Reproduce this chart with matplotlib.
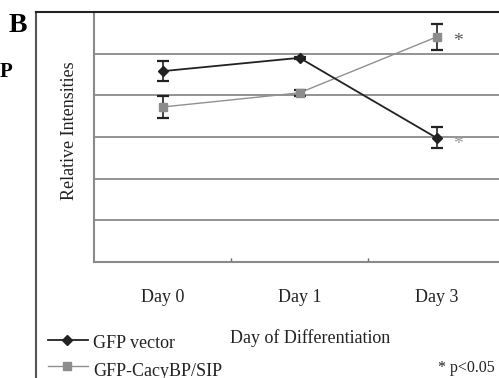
import matplotlib
matplotlib.use("Agg")
import matplotlib.pyplot as plt
from matplotlib.lines import Line2D

plt.rcParams['font.family'] = ['Liberation Serif', 'DejaVu Serif']

days = ["Day 0", "Day 1", "Day 3"]
vector_vals = [4.58, 4.90, 2.98]
vector_err = [0.24, 0.03, 0.25]
cacy_vals = [3.72, 4.06, 5.40]
cacy_err = [0.26, 0.08, 0.31]
series_names = ["GFP vector", "GFP-CacyBP/SIP"]

W, H = 499, 378
fig = plt.figure(figsize=(W / 100, H / 100), dpi=100)

def fx(px):
    return px / W

def fy(py):
    return 1 - py / H

# plot area
left, right, top, bottom = 94, 505, 12, 262
ax = fig.add_axes([fx(left), fy(bottom), fx(right - left), (bottom - top) / H])
ax.set_xlim(-0.5, 2.5)
ax.set_ylim(0, 6)
for v in range(1, 6):
    ax.axhline(v, color='#8a8a8a', lw=1.3, zorder=1)

x = list(range(len(days)))
ax.errorbar(x, cacy_vals, yerr=cacy_err, color='#909090', lw=1.0, marker='s', ms=6,
            mfc='#8c8c8c', mec='#8c8c8c', ecolor='#222222', elinewidth=1.2,
            capsize=4, capthick=1.6, zorder=3)
ax.errorbar(x, vector_vals, yerr=vector_err, color='#222222', lw=1.3, marker='D', ms=5,
            mfc='#222222', mec='#222222', ecolor='#222222', elinewidth=1.2,
            capsize=4, capthick=1.6, zorder=4)

ax.text(2.12, cacy_vals[2] - 0.1, "*", fontsize=14, color='#555555', va='center', ha='left')
ax.text(2.12, vector_vals[2] - 0.17, "*", fontsize=14, color='#999999', va='center', ha='left')

ax.set_xticks([0.5, 1.5])
ax.set_xticklabels([])
ax.tick_params(axis='x', direction='in', length=3, color='#666666', width=1)
ax.set_yticks([])
for s in ['top', 'right']:
    ax.spines[s].set_visible(False)
for s in ['left', 'bottom']:
    ax.spines[s].set_color('#8a8a8a')
    ax.spines[s].set_linewidth(1.5)

# category labels
for i, d in enumerate(days):
    xp = left + (right - left) * (i + 0.5) / 3
    fig.text(fx(xp), fy(298), d, ha='center', va='center', fontsize=13, color='#222222')

fig.text(fx(310), fy(338), "Day of Differentiation", ha='center', va='center',
         fontsize=13, color='#222222')
fig.text(fx(70), fy(131), "Relative Intensities", rotation=90, ha='center', va='center',
         fontsize=13, color='#222222')

# outer frame
fig.add_artist(Line2D([fx(36), fx(36)], [fy(12), fy(H + 5)], color='#555555', lw=1.5))
fig.add_artist(Line2D([fx(36), fx(W + 5)], [fy(12), fy(12)], color='#222222', lw=1.5))

# legend
fig.add_artist(Line2D([fx(48), fx(67), fx(88)], [fy(340)] * 3, color='#222222', lw=1.3,
                      marker='D', ms=5, markevery=[1], mfc='#222222', mec='#222222'))
fig.add_artist(Line2D([fx(48), fx(67), fx(88)], [fy(366)] * 3, color='#909090', lw=1.0,
                      marker='s', ms=6, markevery=[1], mfc='#8c8c8c', mec='#8c8c8c'))
fig.text(fx(93), fy(344), series_names[0], ha='left', va='center', fontsize=13, color='#222222')
fig.text(fx(93), fy(371), series_names[1], ha='left', va='center', fontsize=13, color='#222222')

fig.text(fx(438), fy(368), "* p<0.05", ha='left', va='center', fontsize=11.5, color='#222222')

# panel letters
fig.text(fx(9), fy(25), "B", ha='left', va='center', fontsize=20, fontweight='bold')
fig.text(fx(0), fy(72), "P", ha='left', va='center', fontsize=15, fontweight='bold')

fig.savefig("out.png", dpi=100)
